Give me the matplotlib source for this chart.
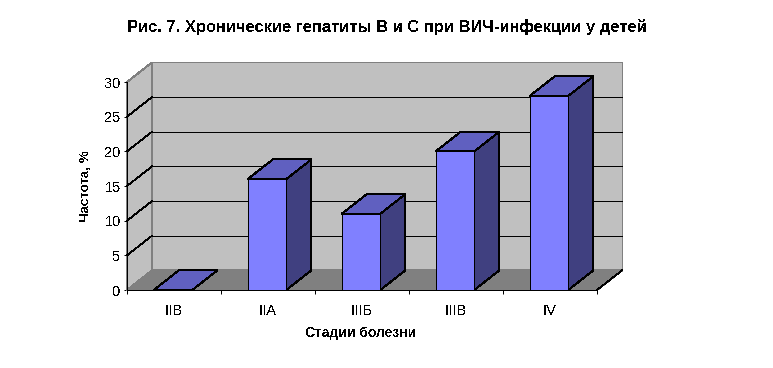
import matplotlib
matplotlib.use("Agg")
import matplotlib.pyplot as plt
from matplotlib.patches import Polygon

plt.rcParams['font.family'] = ['Liberation Sans', 'DejaVu Sans']
plt.rcParams['text.antialiased'] = False

stages = ["IIB", "IIA", "IIIБ", "IIIB", "IV"]
freq = [0, 16, 11, 20, 28]
y_ticks = [0, 5, 10, 15, 20, 25, 30]

W, H = 773, 368
# pseudo-3d depth, in data units
depth_x = 25 / 94
depth_y = 19.6 / 208 * 30
bar_w = 0.41
thin = 0.72  # one pixel at dpi 100

wall = "#c0c0c0"
floor = "#808080"
front = "#8080ff"
top = "#6060c0"
side = "#404080"


def face(ax, pts, color, edge=None, z=1):
    ax.add_patch(Polygon(pts, closed=True, facecolor=color, edgecolor=edge if edge else color,
                         linewidth=thin, clip_on=False, zorder=z, antialiased=False))


fig = plt.figure(figsize=(W / 100, H / 100), dpi=100, facecolor="white")
ax = fig.add_axes([127 / W, 1 - 290 / H, 470 / W, 208 / H])
ax.set_xlim(0, 5)
ax.set_ylim(0, 30)
ax.patch.set_visible(False)

ymax = y_ticks[-1]
n = len(stages)

# side wall, back wall, floor
face(ax, [(0, 0), (depth_x, depth_y), (depth_x, ymax + depth_y), (0, ymax)], wall, "#808080", z=1)
face(ax, [(depth_x, depth_y), (n + depth_x, depth_y), (n + depth_x, ymax + depth_y), (depth_x, ymax + depth_y)],
     wall, "#808080", z=1)
face(ax, [(0, 0), (n, 0), (n + depth_x, depth_y), (depth_x, depth_y)], floor, z=2)

# grid lines on the walls
for v in y_ticks[1:-1]:
    ax.plot([0, depth_x], [v, v + depth_y], color="black", lw=0.55,
            clip_on=False, zorder=3, antialiased=False)
    ax.plot([depth_x, n + depth_x], [v + depth_y, v + depth_y], color="black", lw=0.55,
            clip_on=False, zorder=3, antialiased=False)
ax.plot([n, n + depth_x], [0, depth_y], color="black", lw=0.55, clip_on=False, zorder=3, antialiased=False)

# bars
for i, v in enumerate(freq):
    x0 = i + 0.49 - bar_w / 2
    x1 = i + 0.49 + bar_w / 2
    if v > 0:
        face(ax, [(x1, 0), (x1 + depth_x, depth_y), (x1 + depth_x, v + depth_y), (x1, v)], side, "black", z=4 + i)
        face(ax, [(x0, 0), (x1, 0), (x1, v), (x0, v)], front, "black", z=4 + i)
    face(ax, [(x0, v), (x1, v), (x1 + depth_x, v + depth_y), (x0 + depth_x, v + depth_y)], top, "black", z=4 + i)

for s in ["top", "right"]:
    ax.spines[s].set_visible(False)
for s in ["left", "bottom"]:
    ax.spines[s].set_linewidth(thin)
    ax.spines[s].set_zorder(20)
    ax.spines[s].set_antialiased(False)

ax.set_yticks(y_ticks)
ax.set_xticks(range(n + 1))
ax.set_xticks([i + 0.5 for i in range(n)], labels=stages, minor=True)
ax.tick_params(axis="x", which="major", length=3, width=thin, labelbottom=False)
ax.tick_params(axis="x", which="minor", length=0, labelsize=10.5, pad=10)
ax.tick_params(axis="y", length=2.5, width=thin, labelsize=10.5, pad=2)

fig.text(387 / W, 1 - 27 / H, "Рис. 7. Хронические гепатиты В и С при ВИЧ-инфекции у детей",
         ha="center", va="center", fontsize=11.9, fontweight="bold")
fig.text(361 / W, 1 - 333 / H, "Стадии болезни", ha="center", va="center", fontsize=10, fontweight="bold")
fig.text(86 / W, 1 - 186 / H, "Частота, %", ha="center", va="center", rotation=90, fontsize=9.6, fontweight="bold")

fig.savefig("out.png", dpi=100)
